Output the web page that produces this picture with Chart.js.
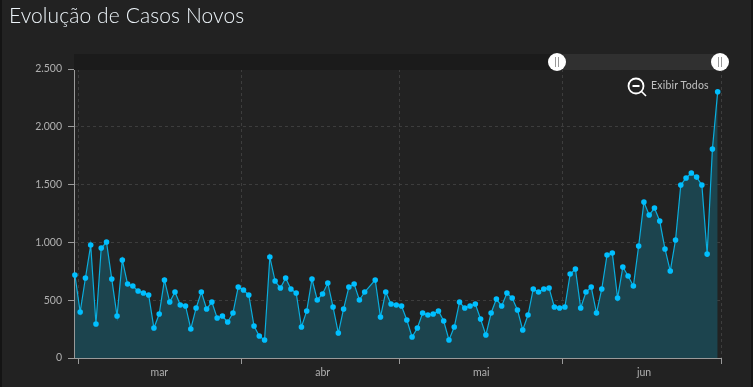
<!DOCTYPE html>
<html>
<head>
<meta charset="utf-8">
<title>Evolução de Casos Novos</title>
<script src="https://cdn.jsdelivr.net/npm/chart.js@4"></script>
<style>
  html, body { margin: 0; padding: 0; background: #141414; }
  #panel { position: absolute; left: 2px; top: 0; width: 749px; height: 387px; background: #222222; }
  #wrap { position: absolute; left: 0; top: 0; width: 753px; height: 387px; overflow: hidden; font-family: Lato, sans-serif; }
  #chart { position: absolute; left: 0; top: 0; }
  #title { position: absolute; left: 9px; top: 2px; font-size: 21px; font-weight: 300; letter-spacing: 0.1px; color: #eef5fa; white-space: nowrap; }
  .band { position: absolute; top: 54px; height: 16px; }
  #bandOut { left: 74px; width: 483px; background: #1b1b1b; }
  #bandIn { left: 557px; width: 163px; background: #303030; }
  .handle { position: absolute; top: 53px; width: 18px; height: 18px; border-radius: 50%; background: #ffffff; }
  .handle::before, .handle::after { content: ''; position: absolute; top: 4px; width: 1px; height: 10px; background: #999999; }
  .handle::before { left: 7px; }
  .handle::after { left: 10px; }
  #resetLabel { position: absolute; left: 651px; top: 79px; font-size: 10.5px; letter-spacing: 0.2px; color: #c0c0c0; white-space: nowrap; }
  #resetIcon { position: absolute; left: 627px; top: 77px; }
</style>
</head>
<body>
<div id="wrap">
  <div id="panel"></div>
  <canvas id="chart" width="753" height="387"></canvas>
  <div id="title">Evolução de Casos Novos</div>
  <div id="bandOut" class="band"></div>
  <div id="bandIn" class="band"></div>
  <div class="handle" style="left:548px"></div>
  <div class="handle" style="left:711px"></div>
  <svg id="resetIcon" width="20" height="20" viewBox="0 0 20 20">
    <circle cx="9" cy="9" r="7.5" fill="none" stroke="#ffffff" stroke-width="1.8"/>
    <line x1="5.5" y1="9" x2="12.5" y2="9" stroke="#ffffff" stroke-width="2"/>
    <line x1="14.5" y1="14.5" x2="19" y2="19" stroke="#ffffff" stroke-width="1.6"/>
  </svg>
  <div id="resetLabel">Exibir Todos</div>
</div>
<script>
const monthNames = ['mar', 'abr', 'mai', 'jun'];
const monthCenters = [15.4, 46.4, 76.5, 107.4];
const monthEdges = [0, 31, 61, 92, 122];
const yTicks = [0, 500, 1000, 1500, 2000, 2500];

// casos novos por dia (null = dia sem marcador)
const casosNovos = [
  718, 398, 692, 977, 294, 951, 1003, 683, 363, 848,
  640, 623, 579, 562, 545, 259, 380, 675, 484, 571,
  458, 450, 251, 432, 571, 424, 484, 346, 363, 311,
  389, 614, 588, 545, 277, 190, 156, 874, 666, 605,
  692, 597, 562, 268, 407, 683, 502, 554, 649, 441,
  216, 424, 614, 640, 502, 571, null, 675, 355, 571,
  467, 458, 450, 329, 182, 259, 389, 372, 380, 407,
  320, 156, 268, 484, 432, 450, 467, 337, 199, 389,
  510, 450, 562, 519, 415, 242, 372, 597, 571, 597,
  605, 441, 432, 441, 726, 770, 432, 571, 614, 389,
  597, 891, 908, 519, 787, 709, 623, 969, 1349, 1237,
  1297, 1185, 943, 752, 1021, 1496, 1557, 1600, 1565, 1496,
  899, 1808, 2303
];

// o primeiro ponto fica um pouco antes do tick de marco
const dayOffset = -0.63;
const points = casosNovos.map((v, i) => ({ x: i + dayOffset, y: v }));

function formatThousands(v) {
  return String(v).replace(/\B(?=(\d{3})+$)/g, '.');
}

function edgeColor(color) {
  return ctx => (ctx.tick && monthEdges.includes(ctx.tick.value)) ? color : 'rgba(0,0,0,0)';
}

new Chart(document.getElementById('chart'), {
  type: 'line',
  data: {
    datasets: [{
      label: 'Casos Novos',
      data: points,
      spanGaps: true,
      clip: 8,
      fill: 'origin',
      backgroundColor: '#1c444e',
      borderColor: '#0aaede',
      borderWidth: 1.2,
      tension: 0,
      pointRadius: 2.8,
      pointBorderWidth: 0,
      pointBackgroundColor: '#00bfff'
    }]
  },
  options: {
    responsive: false,
    animation: false,
    layout: { padding: { top: 69, right: 32, left: 0, bottom: 0 } },
    plugins: { legend: { display: false }, title: { display: false } },
    scales: {
      x: {
        type: 'linear',
        min: -0.8,
        max: 122,
        afterBuildTicks: axis => {
          axis.ticks = monthEdges.concat(monthCenters).sort((a, b) => a - b).map(v => ({ value: v }));
        },
        afterFit: axis => { axis.height = 29; },
        border: { display: true, color: '#9a9a9a', width: 1, dash: [3, 3] },
        grid: {
          color: edgeColor('#3d3d3d'),
          tickColor: edgeColor('#9a9a9a'),
          tickLength: 6,
          tickBorderDash: []
        },
        ticks: {
          autoSkip: false,
          maxRotation: 0,
          padding: 2,
          color: '#b0b0b0',
          font: { family: 'Lato', size: 10.5 },
          callback: v => {
            const idx = monthCenters.indexOf(v);
            return idx >= 0 ? monthNames[idx] : '';
          }
        }
      },
      y: {
        min: 0,
        max: 2500,
        afterBuildTicks: axis => { axis.ticks = yTicks.map(v => ({ value: v })); },
        afterFit: axis => { axis.width = 74; },
        border: { display: true, color: '#9a9a9a', width: 1, dash: [3, 3] },
        grid: {
          color: '#3d3d3d',
          tickColor: '#9a9a9a',
          tickLength: 6,
          tickBorderDash: []
        },
        ticks: {
          padding: 6,
          color: '#b0b0b0',
          font: { family: 'Lato', size: 10.5 },
          callback: v => formatThousands(v)
        }
      }
    }
  }
});
</script>
</body>
</html>
